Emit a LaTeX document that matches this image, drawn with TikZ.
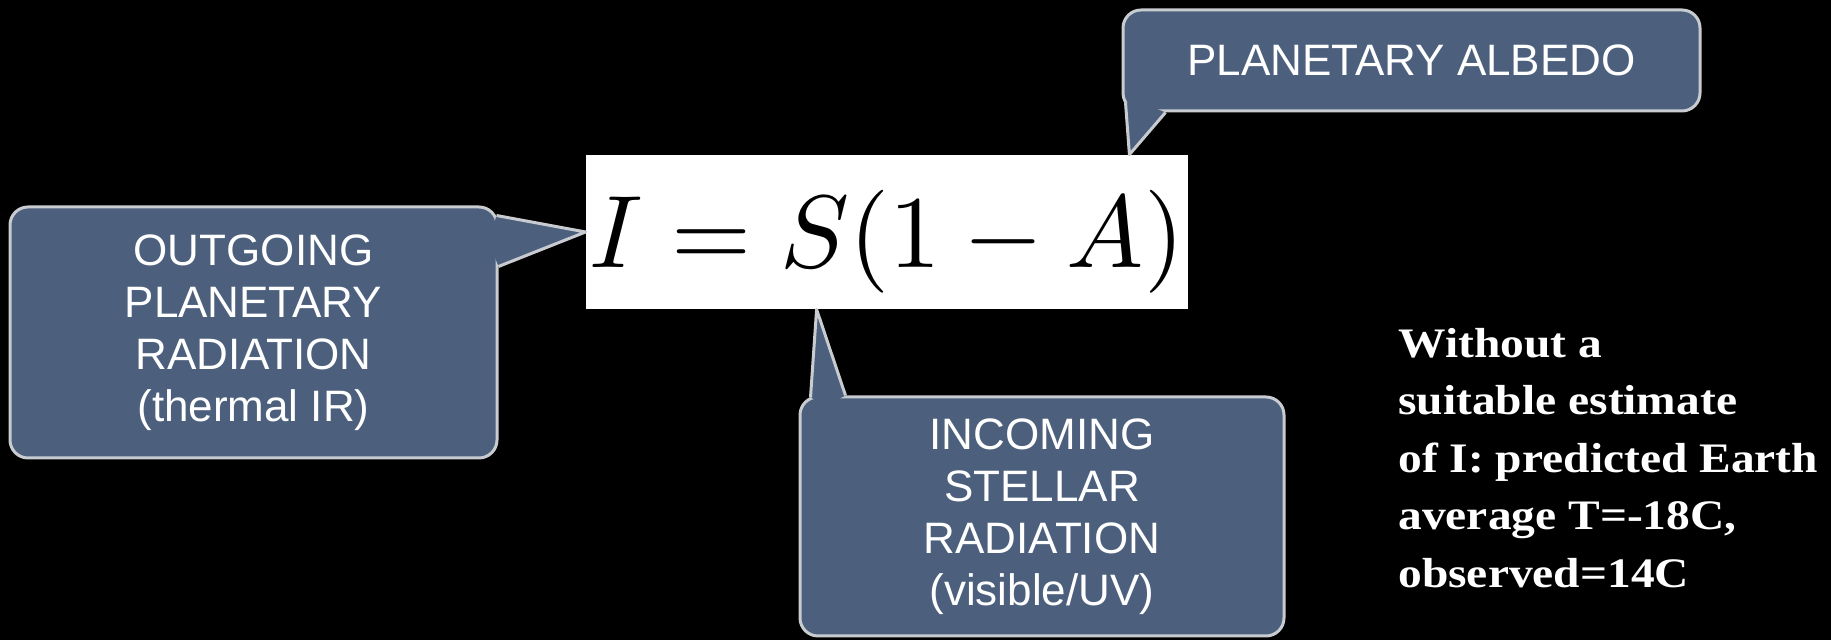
\documentclass[tikz,border=0pt]{standalone}
\usepackage{graphicx}
\usepackage{fontspec}
\setmainfont{Liberation Serif}
\newfontfamily\calloutfont{Liberation Sans}
\newfontfamily\notefont[FakeStretch=1.13]{Liberation Serif}
\usetikzlibrary{calc}
\definecolor{calloutblue}{RGB}{76,96,125}
\definecolor{calloutrim}{RGB}{200,203,208}
% pointer of a callout: base point, tip, base point, point inside the box
\newcommand{\drawpointer}[4]{%
  \fill[calloutblue](#1)--(#2)--(#3)--(#4)--cycle;
  \draw[pointerline](#1)--(#2)--(#3);}
\tikzset{
  callout/.style={draw=calloutrim,line width=1.5pt,fill=calloutblue,
    rounded corners=9pt,inner sep=0pt},
  calltext/.style={font=\calloutfont\fontsize{22}{26}\selectfont,
    text=white,align=center},
  pointerline/.style={draw=calloutrim,line width=1.5pt,line join=round},
}
\begin{document}
\begin{tikzpicture}[x=1pt,y=1pt]
\fill[black](0,0)rectangle(915.5,320);
\node[fill=white,minimum width=301pt,minimum height=77pt,inner sep=0pt,
  text height=48pt,text depth=12pt](formula)at(443.5,204)
  {\scalebox{5.15}{$I=S(1-A)$}};
\node[callout,calltext,minimum width=243.5pt,minimum height=125.5pt]
  (outgoing)at(126.75,153.75){OUTGOING\\PLANETARY\\RADIATION\\(thermal IR)};
\drawpointer{$(outgoing.north east)+(-1,-5)$}{formula.west}
  {$(outgoing.north east)+(0,-30.5)$}{$(outgoing.north east)+(-5,-18)$}
\node[callout,calltext,minimum width=288.5pt,minimum height=50.5pt]
  (albedo)at(705.75,289.75){PLANETARY ALBEDO};
\drawpointer{$(albedo.south west)+(2,5)$}{$(formula.north east)+(-29.5,0)$}
  {$(albedo.south west)+(22,0)$}{$(albedo.south west)+(10,5)$}
\node[callout,calltext,minimum width=242pt,minimum height=119.5pt]
  (incoming)at(521,61.75){INCOMING\\STELLAR\\RADIATION\\(visible/UV)};
\drawpointer{$(incoming.north west)+(6,-1)$}{$(formula.south west)+(115.5,0)$}
  {$(incoming.north west)+(23.5,0)$}{$(incoming.north west)+(14,-5)$}
\node[anchor=west,inner sep=0pt,align=left,text=white,
  font=\notefont\bfseries\fontsize{21}{28.75}\selectfont](estimate)at(699,91)
  {Without a\\suitable estimate\\of I: predicted Earth\\average T=-18C,\\observed=14C};
\end{tikzpicture}
\end{document}
